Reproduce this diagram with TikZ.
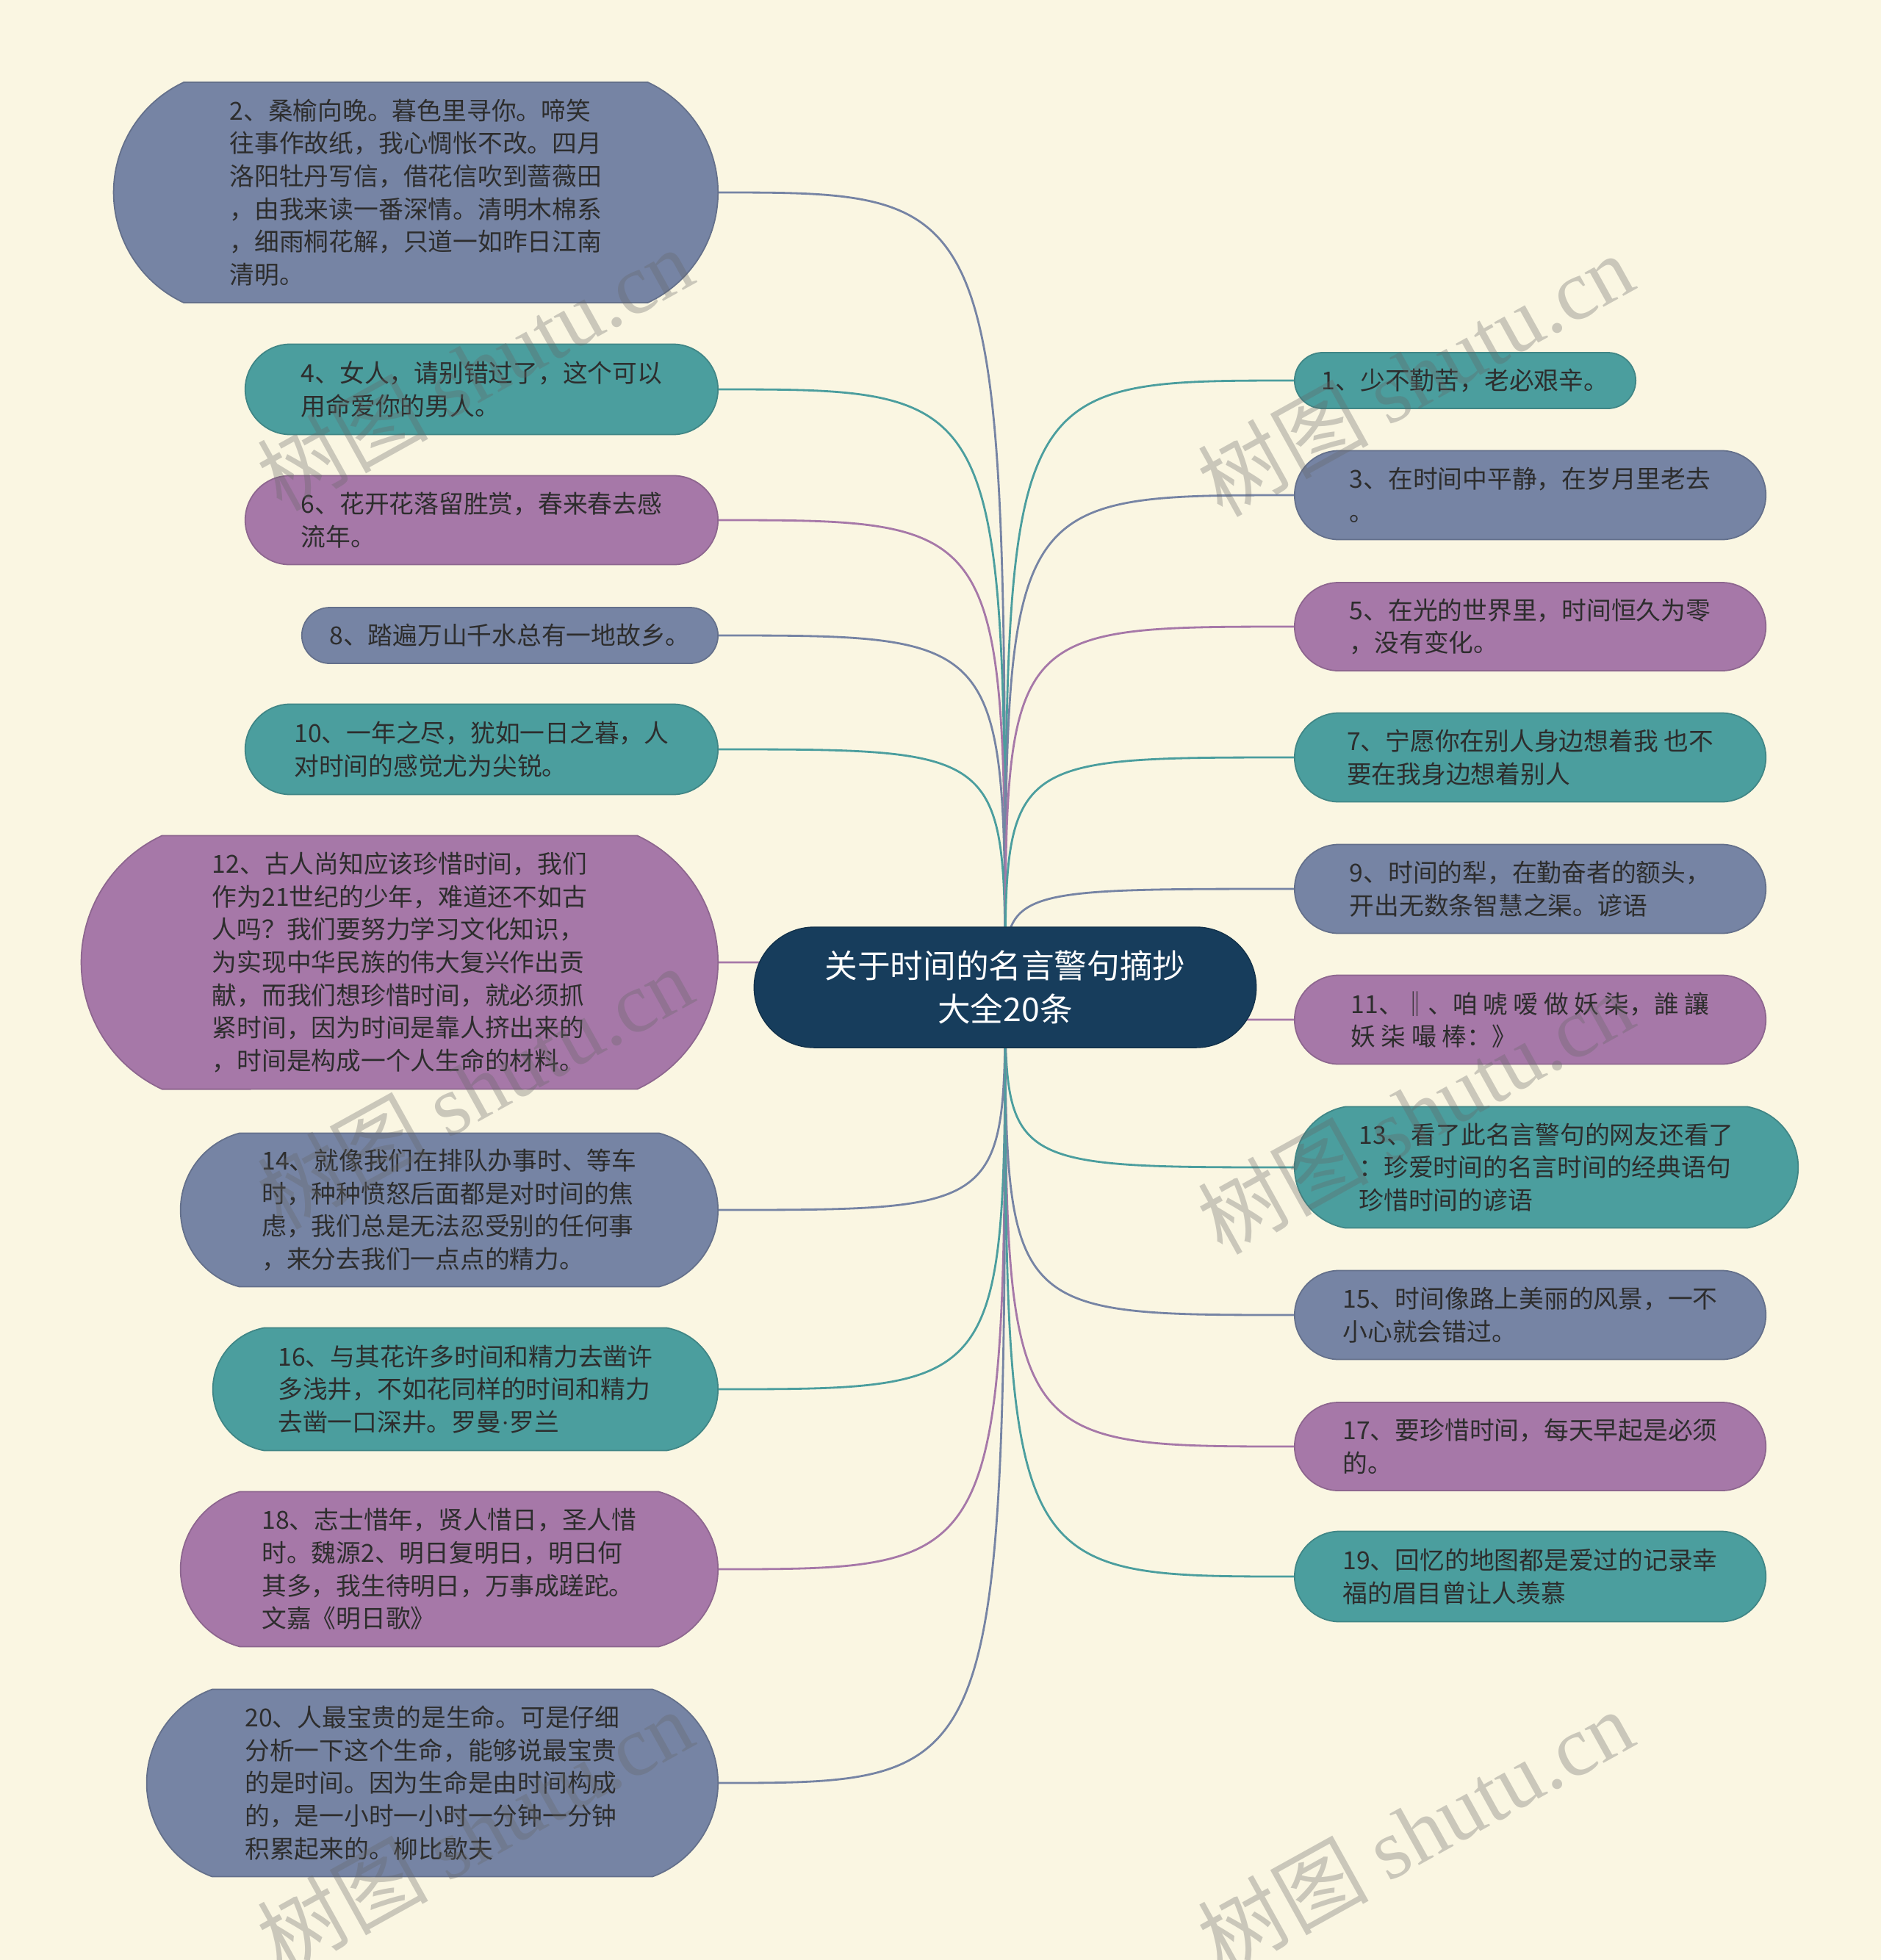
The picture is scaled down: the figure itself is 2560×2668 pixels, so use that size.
\documentclass[tikz,border=0pt]{standalone}
\usepackage{fontspec}
\setmainfont{Noto Sans CJK SC}
\newfontfamily\markfont{Liberation Serif}
\usetikzlibrary{shapes.misc, backgrounds}
\definecolor{paper}{RGB}{250,246,226}
\definecolor{rootNavy}{RGB}{23,61,92}
\definecolor{leafSlate}{RGB}{118,132,164}
\definecolor{leafTeal}{RGB}{75,158,158}
\definecolor{leafPurple}{RGB}{166,120,168}
\definecolor{inkGray}{RGB}{45,45,45}
\tikzset{
  leaf/.style={rounded rectangle, fill=#1, draw=#1!85!black, line width=0.5pt,
               text=inkGray, align=left, inner sep=0pt,
               font=\fontsize{9.6}{12.7}\selectfont},
  root/.style={rounded rectangle, fill=rootNavy, draw=rootNavy!80!black,
               text=white, align=center, inner sep=0pt,
               font=\fontsize{12.7}{16.9}\selectfont},
  link/.style={draw=#1, line width=0.8pt},
}
\newcommand{\watermark}[1]{%
  % #1 = centre of the stamp
  \node[rotate=29, text=black!60, opacity=0.32,
        font=\fontsize{33}{33}\selectfont] at #1 {树图 {\markfont shutu.cn}};
}

\begin{document}
\begin{tikzpicture}[x=0.01cm, y=-0.01cm]
\useasboundingbox (0,0) rectangle (2560,2668);

% --- centre --------------------------------------------------------------
\node[root, minimum width=6.83cm, minimum height=1.64cm] (root) at (1368,1344)
  {关于时间的名言警句摘抄\\大全20条};

% --- left branches -------------------------------------------------------
\node[leaf=leafSlate, minimum width=8.22cm, minimum height=3.00cm,
      rounded rectangle arc length=130, anchor=east] (n2) at (978,262)
  {2、桑榆向晚。暮色里寻你。啼笑\\
   往事作故纸，我心惆怅不改。四月\\
   洛阳牡丹写信，借花信吹到蔷薇田\\
   ，由我来读一番深情。清明木棉系\\
   ，细雨桐花解，只道一如昨日江南\\
   清明。};
\node[leaf=leafTeal, minimum width=6.43cm, minimum height=1.23cm,
      anchor=east] (n4) at (978,530)
  {4、女人，请别错过了，这个可以\\
   用命爱你的男人。};
\node[leaf=leafPurple, minimum width=6.43cm, minimum height=1.21cm,
      anchor=east] (n6) at (978,708)
  {6、花开花落留胜赏，春来春去感\\
   流年。};
\node[leaf=leafSlate, minimum width=5.66cm, minimum height=0.76cm,
      anchor=east] (n8) at (978,865)
  {8、踏遍万山千水总有一地故乡。};
\node[leaf=leafTeal, minimum width=6.43cm, minimum height=1.23cm,
      anchor=east] (n10) at (978,1020)
  {10、一年之尽，犹如一日之暮，人\\
   对时间的感觉尤为尖锐。};
\node[leaf=leafPurple, minimum width=8.66cm, minimum height=3.45cm,
      rounded rectangle arc length=130, anchor=east] (n12) at (978,1310)
  {12、古人尚知应该珍惜时间，我们\\
   作为21世纪的少年，难道还不如古\\
   人吗？我们要努力学习文化知识，\\
   为实现中华民族的伟大复兴作出贡\\
   献，而我们想珍惜时间，就必须抓\\
   紧时间，因为时间是靠人挤出来的\\
   ，时间是构成一个人生命的材料。};
\node[leaf=leafSlate, minimum width=7.31cm, minimum height=2.09cm,
      rounded rectangle arc length=150, anchor=east] (n14) at (978,1647)
  {14、就像我们在排队办事时、等车\\
   时，种种愤怒后面都是对时间的焦\\
   虑，我们总是无法忍受别的任何事\\
   ，来分去我们一点点的精力。};
\node[leaf=leafTeal, minimum width=6.87cm, minimum height=1.67cm,
      rounded rectangle arc length=160, anchor=east] (n16) at (978,1891)
  {16、与其花许多时间和精力去凿许\\
   多浅井，不如花同样的时间和精力\\
   去凿一口深井。罗曼{\markfont ·}罗兰};
\node[leaf=leafPurple, minimum width=7.31cm, minimum height=2.11cm,
      rounded rectangle arc length=150, anchor=east] (n18) at (978,2136)
  {18、志士惜年，贤人惜日，圣人惜\\
   时。魏源2、明日复明日，明日何\\
   其多，我生待明日，万事成蹉跎。\\
   文嘉《明日歌》};
\node[leaf=leafSlate, minimum width=7.77cm, minimum height=2.55cm,
      rounded rectangle arc length=140, anchor=east] (n20) at (978,2427)
  {20、人最宝贵的是生命。可是仔细\\
   分析一下这个生命，能够说最宝贵\\
   的是时间。因为生命是由时间构成\\
   的，是一小时一小时一分钟一分钟\\
   积累起来的。柳比歇夫};

% --- right branches ------------------------------------------------------
\node[leaf=leafTeal, minimum width=4.64cm, minimum height=0.76cm,
      anchor=west] (n1) at (1761,518)
  {1、少不勤苦，老必艰辛。};
\node[leaf=leafSlate, minimum width=6.41cm, minimum height=1.21cm,
      anchor=west] (n3) at (1761,674)
  {3、在时间中平静，在岁月里老去\\
   。};
\node[leaf=leafPurple, minimum width=6.41cm, minimum height=1.20cm,
      anchor=west] (n5) at (1761,853)
  {5、在光的世界里，时间恒久为零\\
   ，没有变化。};
\node[leaf=leafTeal, minimum width=6.41cm, minimum height=1.21cm,
      anchor=west] (n7) at (1761,1031)
  {7、宁愿你在别人身边想着我 也不\\
   要在我身边想着别人};
\node[leaf=leafSlate, minimum width=6.41cm, minimum height=1.21cm,
      anchor=west] (n9) at (1761,1210)
  {9、时间的犁，在勤奋者的额头，\\
   开出无数条智慧之渠。谚语};
\node[leaf=leafPurple, minimum width=6.41cm, minimum height=1.21cm,
      anchor=west] (n11) at (1761,1388)
  {11、‖、咱 唬 嗳 做 妖 柒，誰 讓\\
   妖 柒 嘬 棒：》};
\node[leaf=leafTeal, minimum width=6.85cm, minimum height=1.65cm,
      rounded rectangle arc length=160, anchor=west] (n13) at (1761,1589)
  {13、看了此名言警句的网友还看了\\
   ：珍爱时间的名言时间的经典语句\\
   珍惜时间的谚语};
\node[leaf=leafSlate, minimum width=6.41cm, minimum height=1.21cm,
      anchor=west] (n15) at (1761,1790)
  {15、时间像路上美丽的风景，一不\\
   小心就会错过。};
\node[leaf=leafPurple, minimum width=6.41cm, minimum height=1.20cm,
      anchor=west] (n17) at (1761,1969)
  {17、要珍惜时间，每天早起是必须\\
   的。};
\node[leaf=leafTeal, minimum width=6.41cm, minimum height=1.23cm,
      anchor=west] (n19) at (1761,2146)
  {19、回忆的地图都是爱过的记录幸\\
   福的眉目曾让人羡慕};

% --- paper and connectors, under the nodes -------------------------------
\begin{pgfonlayer}{background}
  \fill[paper] (0,0) rectangle (2560,2668);
  \foreach \n/\c in {n2/leafSlate, n4/leafTeal, n6/leafPurple, n8/leafSlate,
                     n10/leafTeal, n12/leafPurple, n14/leafSlate, n16/leafTeal,
                     n18/leafPurple, n20/leafSlate}{
    \draw[link=\c] (root.center) .. controls (root.center |- \n.east) .. (\n.east);
  }
  \foreach \n/\c in {n1/leafTeal, n3/leafSlate, n5/leafPurple, n7/leafTeal,
                     n9/leafSlate, n11/leafPurple, n13/leafTeal, n15/leafSlate,
                     n17/leafPurple, n19/leafTeal}{
    \draw[link=\c] (root.center) .. controls (root.center |- \n.west) .. (\n.west);
  }
\end{pgfonlayer}

% --- stamps --------------------------------------------------------------
\watermark{(646,502)}
\watermark{(1926,510)}
\watermark{(646,1480)}
\watermark{(1926,1514)}
\watermark{(646,2492)}
\watermark{(1926,2492)}

\end{tikzpicture}
\end{document}
